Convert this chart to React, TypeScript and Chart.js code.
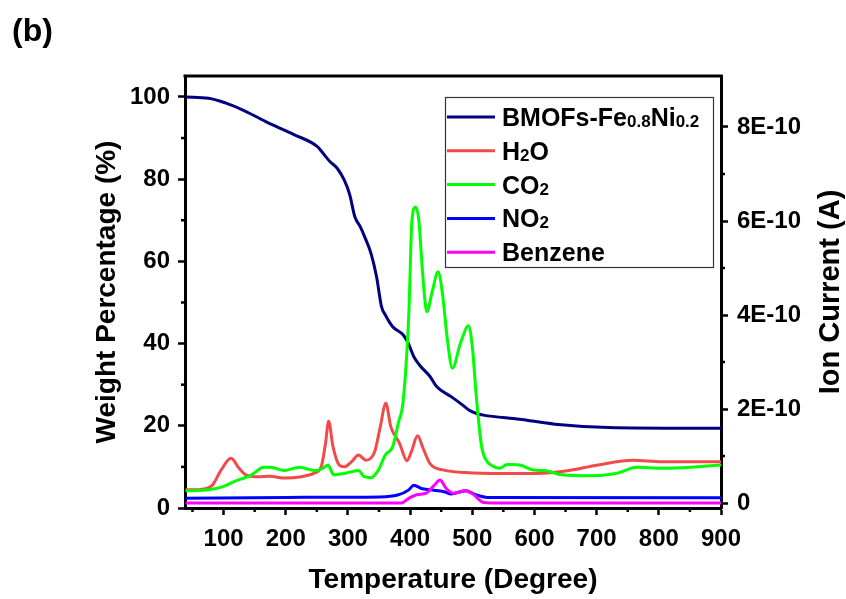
import React, { useEffect, useRef } from "react";
import { Chart, registerables } from "chart.js";

Chart.register(...registerables);

const FONT = "'Liberation Sans', Arial, Helvetica, sans-serif";

// ---- axes ----
const xRange = [38, 900];
const xMajorTicks = [100, 200, 300, 400, 500, 600, 700, 800, 900];
const xMinorTicks = [50, 150, 250, 350, 450, 550, 650, 750, 850];
const weightRange = [0, 105.1];
const weightMajorTicks = [0, 20, 40, 60, 80, 100];
const weightMinorTicks = [10, 30, 50, 70, 90];
// ion current in units of 1E-10 A
const ionRange = [-0.106, 9.085];
const ionMajorTicks = [0, 2, 4, 6, 8];
const ionTickLabels = ["0", "2E-10", "4E-10", "6E-10", "8E-10"];
const ionMinorTicks = [1, 3, 5, 7];

// ---- series names (_{..} = subscript) ----
const seriesNames = ["BMOFs-Fe_{0.8}Ni_{0.2}", "H_{2}O", "CO_{2}", "NO_{2}", "Benzene"];
const seriesColors = ["#000080", "#F24A4A", "#00FF00", "#0000FF", "#FF00FF"];

// ---- TG curve (weight %) ----
const weightT = [39, 76, 104, 133, 168, 179, 214, 251, 260, 271, 283, 294, 303, 311, 320, 328, 337, 346, 354, 360, 372, 389, 397, 406, 415, 432, 443, 466, 484, 495, 507, 518, 576, 633, 719, 900];
const weightPct = [100.0, 99.7, 98.5, 96.7, 94.0, 93.2, 90.8, 87.9, 86.3, 84.3, 82.6, 79.8, 76.2, 70.9, 68.4, 65.6, 62.0, 56.3, 49.0, 47.0, 44.1, 42.1, 40.1, 36.8, 34.8, 32.0, 29.5, 27.1, 25.1, 23.8, 23.0, 22.6, 21.6, 20.4, 19.6, 19.4];

// ---- MS ion currents (x1E-10 A) ----
const h2oT = [39, 64, 82, 96, 112, 125, 136, 156, 174, 199, 225, 245, 257, 264, 269, 276, 286, 294, 306, 317, 329, 343, 352, 361, 369, 375, 383, 395, 402, 412, 421, 432, 455, 489, 547, 604, 650, 702, 759, 805, 900];
const h2oI = [0.28, 0.29, 0.38, 0.70, 0.95, 0.74, 0.60, 0.56, 0.57, 0.53, 0.56, 0.63, 0.77, 1.27, 1.74, 1.20, 0.81, 0.77, 0.88, 1.02, 0.91, 1.09, 1.62, 2.12, 1.62, 1.45, 1.27, 0.90, 1.09, 1.43, 1.16, 0.84, 0.70, 0.65, 0.63, 0.63, 0.68, 0.81, 0.91, 0.88, 0.88];

const co2T = [39, 76, 99, 116, 145, 165, 176, 197, 222, 248, 260, 268, 277, 294, 317, 326, 337, 349, 360, 372, 381, 389, 398, 403, 409, 414, 421, 427, 435, 445, 452, 460, 468, 481, 494, 500, 507, 515, 524, 530, 544, 556, 576, 599, 616, 644, 690, 731, 765, 805, 851, 900];
const co2I = [0.26, 0.28, 0.35, 0.45, 0.60, 0.76, 0.76, 0.69, 0.76, 0.69, 0.74, 0.81, 0.60, 0.63, 0.69, 0.56, 0.54, 0.70, 1.02, 1.20, 1.70, 2.19, 4.04, 6.02, 6.30, 6.02, 4.74, 4.07, 4.46, 4.92, 4.46, 3.47, 2.87, 3.40, 3.77, 3.33, 2.19, 1.20, 0.88, 0.81, 0.74, 0.82, 0.81, 0.70, 0.69, 0.60, 0.58, 0.63, 0.76, 0.74, 0.76, 0.81];

const no2T = [39, 201, 352, 380, 398, 406, 418, 432, 455, 466, 489, 507, 524, 900];
const no2I = [0.10, 0.12, 0.13, 0.17, 0.28, 0.38, 0.31, 0.28, 0.24, 0.19, 0.26, 0.17, 0.12, 0.11];

const benzT = [39, 386, 398, 412, 426, 439, 448, 458, 469, 489, 501, 518, 530, 900];
const benzI = [0.0, 0.0, 0.10, 0.18, 0.21, 0.38, 0.49, 0.31, 0.21, 0.26, 0.19, 0.01, 0.0, 0.0];

const xTitle = "Temperature (Degree)";
const yTitle = "Weight Percentage (%)";
const y1Title = "Ion Current (A)";
const panelLabel = "(b)";

const pts = (xs: number[], ys: number[]) => xs.map((x, i) => ({ x, y: ys[i] }));

function parseRuns(s: string) {
  const runs: { t: string; sub: boolean }[] = [];
  const re = /_\{([^}]*)\}/g;
  let last = 0;
  let m: RegExpExecArray | null;
  while ((m = re.exec(s))) {
    if (m.index > last) runs.push({ t: s.slice(last, m.index), sub: false });
    runs.push({ t: m[1], sub: true });
    last = re.lastIndex;
  }
  if (last < s.length) runs.push({ t: s.slice(last), sub: false });
  return runs;
}

const decorPlugin = {
  id: "decor",
  afterDraw(chart: any) {
    const { ctx, chartArea: ca, scales } = chart;
    ctx.save();
    ctx.strokeStyle = "#000";
    // top frame line
    ctx.lineWidth = 3;
    ctx.beginPath();
    ctx.moveTo(ca.left - 1.5, ca.top);
    ctx.lineTo(ca.right + 1.5, ca.top);
    ctx.stroke();
    // minor ticks
    ctx.lineWidth = 2.5;
    const seg = (x1: number, y1: number, x2: number, y2: number) => {
      ctx.beginPath();
      ctx.moveTo(x1, y1);
      ctx.lineTo(x2, y2);
      ctx.stroke();
    };
    xMinorTicks.forEach((v) => {
      const p = scales.x.getPixelForValue(v);
      seg(p, ca.bottom, p, ca.bottom + 4);
    });
    weightMinorTicks.forEach((v) => {
      const p = scales.y.getPixelForValue(v);
      seg(ca.left - 4, p, ca.left, p);
    });
    ionMinorTicks.forEach((v) => {
      const p = scales.y1.getPixelForValue(v);
      seg(ca.right, p, ca.right + 4, p);
    });

    // right axis title (reads bottom to top)
    ctx.fillStyle = "#000";
    ctx.font = `bold 29px ${FONT}`;
    ctx.save();
    ctx.translate(831, (ca.top + ca.bottom) / 2);
    ctx.rotate(-Math.PI / 2);
    ctx.textAlign = "center";
    ctx.textBaseline = "middle";
    ctx.fillText(y1Title, 0, 0);
    ctx.restore();

    // panel label
    ctx.font = `bold 32px ${FONT}`;
    ctx.textAlign = "left";
    ctx.textBaseline = "alphabetic";
    ctx.fillText(panelLabel, 12, 41);

    // legend
    const lx = 445.5, ly = 97.5, lw = 268, lh = 170;
    ctx.fillStyle = "#fff";
    ctx.fillRect(lx, ly, lw, lh);
    ctx.strokeStyle = "#333";
    ctx.lineWidth = 1.2;
    ctx.strokeRect(lx, ly, lw, lh);
    seriesNames.forEach((name, i) => {
      const cy = 117 + i * 33.8;
      ctx.strokeStyle = seriesColors[i];
      ctx.lineWidth = 3;
      seg(447, cy, 495, cy);
      let x = 502;
      ctx.fillStyle = "#000";
      parseRuns(name).forEach((r) => {
        ctx.font = r.sub ? `bold 17px ${FONT}` : `bold 25px ${FONT}`;
        ctx.fillText(r.t, x, cy + 9 + (r.sub ? 1 : 0));
        x += ctx.measureText(r.t).width;
      });
    });
    ctx.restore();
  },
};

export default function App() {
  const ref = useRef<HTMLCanvasElement>(null);
  useEffect(() => {
    const tickFont = { family: FONT, size: 24, weight: "bold" as const };
    const titleFont = { family: FONT, size: 28, weight: "bold" as const };
    const gridOpts = {
      drawOnChartArea: false,
      drawTicks: true,
      tickLength: 7,
      tickWidth: 2.5,
      tickColor: "#000",
    };
    const border = { display: true, color: "#000", width: 3 };
    const ds = (i: number, data: any[], axis: string, order: number) => ({
      label: seriesNames[i],
      data,
      yAxisID: axis,
      borderColor: seriesColors[i],
      backgroundColor: seriesColors[i],
      borderWidth: 3,
      pointRadius: 0,
      fill: false,
      cubicInterpolationMode: "monotone" as const,
      order,
    });
    const chart = new Chart(ref.current!, {
      type: "line",
      data: {
        datasets: [
          ds(4, pts(benzT, benzI), "y1", 1),
          ds(3, pts(no2T, no2I), "y1", 2),
          ds(2, pts(co2T, co2I), "y1", 3),
          ds(1, pts(h2oT, h2oI), "y1", 4),
          ds(0, pts(weightT, weightPct), "y", 5),
        ],
      },
      plugins: [decorPlugin],
      options: {
        animation: false,
        responsive: false,
        devicePixelRatio: 1,
        layout: { padding: { top: 76, left: 0, right: 0, bottom: 0 } },
        plugins: { legend: { display: false }, tooltip: { enabled: false } },
        scales: {
          x: {
            type: "linear",
            min: xRange[0],
            max: xRange[1],
            afterBuildTicks: (s: any) => {
              s.ticks = xMajorTicks.map((v) => ({ value: v }));
            },
            afterFit: (s: any) => {
              s.height = 91;
            },
            ticks: { font: tickFont, color: "#000", padding: 10, autoSkip: false, maxRotation: 0 },
            grid: gridOpts,
            border,
            title: { display: true, text: xTitle, font: titleFont, color: "#000", padding: { top: 0, bottom: 2 } },
          },
          y: {
            type: "linear",
            position: "left",
            min: weightRange[0],
            max: weightRange[1],
            afterBuildTicks: (s: any) => {
              s.ticks = weightMajorTicks.map((v) => ({ value: v }));
            },
            afterFit: (s: any) => {
              s.width = 185;
            },
            ticks: { font: tickFont, color: "#000", padding: 8 },
            grid: gridOpts,
            border,
            title: { display: true, text: yTitle, font: titleFont, color: "#000", padding: { top: 90, bottom: 0 } },
          },
          y1: {
            type: "linear",
            position: "right",
            min: ionRange[0],
            max: ionRange[1],
            afterBuildTicks: (s: any) => {
              s.ticks = ionMajorTicks.map((v) => ({ value: v }));
            },
            afterFit: (s: any) => {
              s.width = 125;
            },
            ticks: {
              font: tickFont,
              color: "#000",
              padding: 9,
              callback: (v: any) => ionTickLabels[ionMajorTicks.indexOf(Number(v))] ?? "",
            },
            grid: gridOpts,
            border,
          },
        },
      },
    });
    return () => chart.destroy();
  }, []);
  return (
    <div style={{ position: "fixed", left: 0, top: 0, width: 846, height: 599, background: "#fff" }}>
      <canvas ref={ref} width={846} height={599} style={{ display: "block", width: 846, height: 599 }} />
    </div>
  );
}
